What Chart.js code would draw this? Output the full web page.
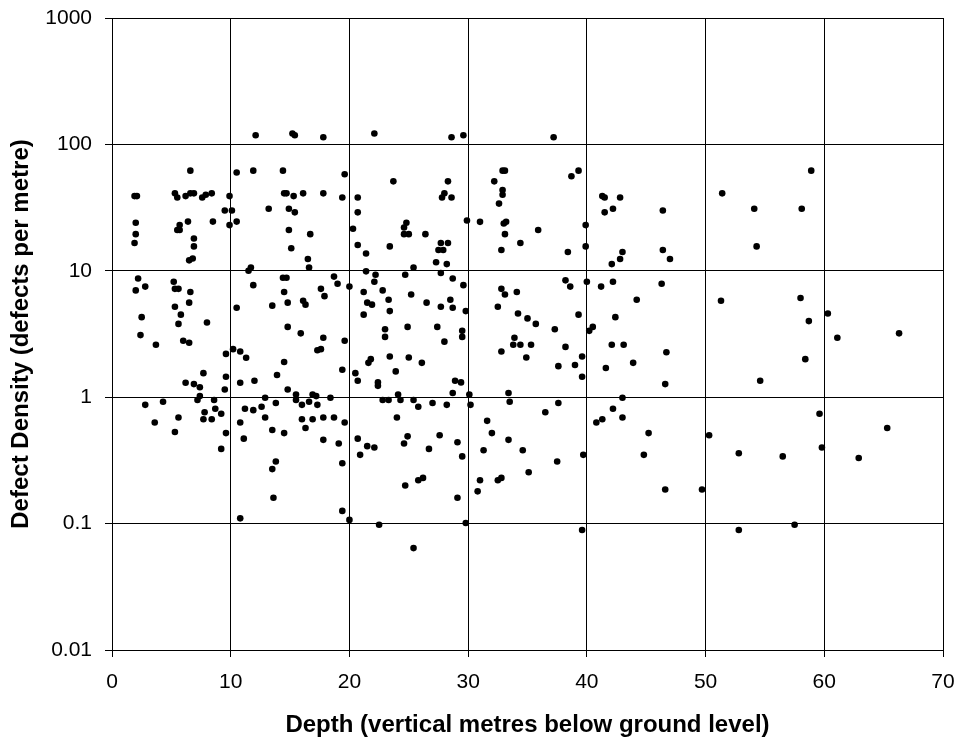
<!DOCTYPE html>
<html lang="en">
<head>
  <meta charset="UTF-8" />
  <title>Defect density vs depth</title>
  <style>
    html, body { margin: 0; padding: 0; background: #fff; }
    #wrap { width: 959px; height: 740px; }
  </style>
</head>
<body>
  <div id="wrap"><canvas id="chart"></canvas></div>

  <script src="https://cdn.jsdelivr.net/npm/chart.js@4"></script>
  <script>
    // depth of each logged interval (vertical metres below ground level)
    const depthMetres = [
      12.1, 15.2, 15.4, 6.6, 10.5, 11.9, 14.4, 1.9, 2.1, 5.3, 5.5, 6.2, 6.6, 6.9, 7.6, 7.9, 8.4, 9.9, 14.5, 14.7,
      15.3, 16.1, 9.5, 10.1, 13.2, 14.9, 15.4, 2.0, 2.0, 1.9, 6.4, 5.7, 5.5, 5.7, 8.5, 9.9, 10.5, 14.9, 16.7, 6.9,
      6.9, 15.1, 6.5, 6.8, 16.5, 16.6, 11.5, 11.7, 2.2, 2.8, 2.0, 5.2, 5.3, 5.6, 6.6, 11.9, 14.4, 14.7, 14.5, 6.5,
      5.3, 5.8, 5.6, 8.0, 10.5, 13.5, 14.8, 16.1, 16.3, 2.5, 2.4, 14.8, 15.9, 17.8, 22.1, 28.6, 29.6, 19.6, 23.7, 28.3,
      32.2, 32.9, 33.1, 17.8, 19.4, 20.7, 27.8, 28.0, 28.6, 32.9, 32.9, 32.6, 20.7, 20.3, 24.6, 24.8, 24.6, 25.0, 26.4, 29.9,
      31.0, 33.0, 33.2, 33.1, 20.7, 21.4, 23.4, 27.7, 28.3, 27.5, 27.9, 32.8, 34.4, 27.3, 28.2, 27.7, 25.4, 24.7, 21.4, 22.2,
      22.1, 18.7, 19.0, 20.0, 17.6, 17.9, 21.2, 22.8, 25.2, 28.7, 29.6, 32.8, 33.1, 34.1, 21.5, 21.9, 23.3, 26.5, 28.5, 27.7,
      28.7, 32.5, 34.2, 21.2, 23.4, 29.8, 23.0, 24.9, 27.4, 29.5, 37.2, 38.7, 39.3, 41.3, 41.5, 42.8, 41.5, 42.2, 46.4, 51.4,
      35.9, 39.9, 39.9, 38.4, 43.0, 42.8, 42.1, 46.4, 47.0, 38.2, 38.6, 40.0, 41.2, 42.2, 46.3, 44.2, 51.3, 35.0, 35.7, 37.3,
      39.3, 42.4, 40.2, 40.5, 58.9, 54.1, 58.1, 54.3, 58.0, 58.7, 60.3, 66.3, 6.0, 6.5, 3.7, 9.6, 10.2, 10.8, 11.3, 14.5,
      17.3, 7.7, 6.2, 6.9, 7.4, 9.6, 9.5, 10.8, 12.0, 13.9, 14.8, 15.5, 15.5, 16.9, 17.2, 7.4, 7.2, 2.8, 4.3, 8.6,
      7.8, 8.7, 9.2, 7.7, 8.4, 12.9, 12.6, 13.8, 11.2, 11.9, 12.9, 16.0, 16.6, 17.3, 16.0, 16.9, 16.3, 3.6, 5.6, 5.3,
      10.8, 13.5, 14.5, 9.6, 11.1, 9.2, 13.8, 13.5, 13.6, 10.8, 17.8, 17.6, 19.6, 23.0, 29.5, 28.0, 33.9, 33.8, 34.4, 32.8,
      19.4, 20.5, 20.7, 21.6, 21.8, 23.4, 25.0, 26.1, 23.9, 22.4, 22.4, 28.9, 29.4, 28.7, 30.1, 33.4, 33.5, 18.4, 24.1, 22.8,
      23.3, 24.3, 25.4, 25.8, 27.0, 28.2, 30.2, 17.8, 18.7, 19.6, 24.0, 17.8, 19.1, 20.7, 21.5, 22.1, 20.9, 24.9, 24.6, 27.6,
      26.7, 29.1, 29.5, 31.6, 32.0, 33.4, 31.3, 34.6, 19.4, 24.7, 25.8, 26.2, 29.1, 31.0, 30.8, 32.5, 32.8, 19.4, 20.0, 22.5,
      29.8, 25.4, 35.3, 34.9, 38.2, 37.6, 39.0, 39.6, 39.6, 42.1, 43.1, 41.6, 43.9, 46.7, 46.6, 43.0, 37.6, 36.5, 42.2, 40.8,
      41.3, 43.0, 45.2, 50.3, 39.7, 37.5, 35.1, 44.8, 46.6, 49.7, 39.6, 61.1, 58.4, 54.6, 59.6, 65.3, 52.8, 56.5, 59.8, 62.9,
      52.8, 57.5
    ];

    // defects per metre for the same intervals
    const defectDensity = [
      118, 122, 118, 62, 60, 62, 62, 39, 39, 41, 38, 39, 41, 41, 38, 40, 41, 39, 41, 41,
      39, 41, 30, 30, 31, 31, 29, 24, 19.5, 16.6, 24.5, 23, 21, 21, 24.5, 23, 24.5, 21, 19.5, 18,
      15.6, 15.1, 12.1, 12.5, 12.4, 10.6, 10, 10.6, 8.7, 7.5, 7.0, 8.2, 7.2, 7.2, 6.8, 7.7, 8.8, 8.8, 6.8, 5.6,
      5.2, 4.5, 3.8, 3.9, 5.1, 5.3, 5.6, 5.8, 5.4, 4.3, 3.1, 3.6, 3.2, 114, 122, 114, 118, 58, 51, 51,
      51, 62, 62, 41, 38, 38, 38, 41, 38, 43.5, 40, 34, 29, 21.5, 22, 24, 19.5, 19.5, 19.5, 25,
      24.4, 23.7, 24.4, 19.5, 16, 13.7, 15.6, 16.6, 16.6, 14.6, 14.6, 14.6, 16.6, 11.7, 11.3, 9.6, 10.6, 9.3, 9.9, 9.3,
      8.2, 9.0, 7.9, 7.5, 7.2, 6.3, 6.8, 7.0, 6.5, 8.7, 7.7, 7.2, 6.5, 6.8, 5.6, 5.4, 5.9, 5.6, 5.9, 5.2,
      5.1, 5.2, 4.6, 4.5, 4.8, 4.8, 3.45, 3.6, 3.6, 3.35, 114, 56, 62, 39, 38, 38, 29, 31, 30, 41,
      21, 23, 15.6, 14.1, 14.1, 12.4, 11.3, 14.6, 12.4, 8.4, 7.5, 8.2, 7.5, 8.2, 7.9, 5.9, 5.8, 4.2, 3.8, 3.45,
      4.5, 4.3, 3.35, 3.6, 62, 31, 31, 15.6, 6.1, 4.0, 4.6, 3.2, 2.8, 2.7, 2.6, 2.2, 2.4, 2.3, 2.05, 1.9,
      2.35, 1.55, 1.3, 1.27, 1.2, 1.45, 1.15, 1.3, 1.35, 1.5, 1.15, 1.05, 0.95, 1.05, 1.02, 1.02, 0.95, 0.87, 0.92, 0.95,
      0.76, 0.81, 0.74, 0.67, 0.67, 0.99, 0.84, 0.9, 0.81, 0.79, 0.69, 0.87, 0.92, 0.87, 0.67, 0.67, 0.57, 0.63, 0.69, 0.53,
      0.63, 0.55, 0.52, 0.52, 0.47, 0.39, 0.31, 0.27, 0.16, 0.11, 2.95, 2.4, 2.8, 3.0, 3.0, 2.75, 2.95, 2.6, 2.6, 2.3,
      1.65, 1.55, 1.35, 1.87, 2.0, 2.1, 2.06, 1.87, 1.6, 1.31, 1.23, 1.35, 1.31, 1.08, 1.05, 1.08, 0.92, 0.99, 1.05, 0.95,
      0.95, 0.95, 0.95, 0.84, 0.9, 0.87, 0.87, 0.69, 0.69, 0.63, 0.69, 0.46, 0.43, 0.47, 0.41, 0.4, 0.35, 0.49, 0.43, 0.5,
      0.39, 0.44, 0.34, 0.65, 0.52, 0.46, 0.38, 0.38, 0.3, 0.2, 0.22, 0.23, 0.16, 0.22, 0.18, 0.22, 0.23, 0.126, 0.107, 0.098,
      0.101, 0.064, 2.6, 2.06, 2.5, 1.76, 1.8, 2.1, 1.45, 2.6, 2.6, 1.7, 1.87, 2.27, 1.27, 0.99, 0.9, 0.76, 0.81, 0.63,
      0.67, 0.69, 0.52, 0.5, 0.35, 0.31, 0.255, 0.35, 0.186, 0.186, 0.089, 2.95, 2.0, 1.35, 0.74, 0.57, 0.36, 0.34, 0.4, 0.33,
      0.089, 0.098
    ];

    const depthTicks = [0, 10, 20, 30, 40, 50, 60, 70];
    const densityTicks = [0.01, 0.1, 1, 10, 100, 1000];

    const points = depthMetres.map((d, i) => ({ x: d, y: defectDensity[i] }));

    Chart.defaults.font.family = "'Liberation Sans', Arial, sans-serif";
    Chart.defaults.color = '#000';

    const gridLines = { color: '#000', lineWidth: 1, tickLength: 7, tickColor: '#000' };
    const titleFont = { size: 24, weight: 'bold' };

    new Chart(document.getElementById('chart'), {
      type: 'scatter',
      data: {
        datasets: [{
          data: points,
          backgroundColor: '#000',
          borderWidth: 0,
          pointRadius: 3.3,
          pointHoverRadius: 3.3
        }]
      },
      options: {
        responsive: true,
        maintainAspectRatio: false,
        animation: false,
        events: [],
        layout: { padding: { top: 18, right: 16, bottom: 0, left: 0 } },
        plugins: {
          legend: { display: false },
          tooltip: { enabled: false }
        },
        scales: {
          x: {
            type: 'linear',
            min: 0,
            max: 70,
            afterBuildTicks: axis => { axis.ticks = depthTicks.map(v => ({ value: v })); },
            // fixed box, and no extra room for the end labels
            afterFit: axis => {
              axis.height = 90;
              axis.paddingLeft = 0;
              axis.paddingRight = 0;
            },
            grid: gridLines,
            border: { color: '#000', width: 1 },
            ticks: { font: { size: 21 }, color: '#000', padding: 13, maxRotation: 0, autoSkip: false },
            title: {
              display: true,
              text: 'Depth (vertical metres below ground level)',
              font: titleFont,
              color: '#000',
              padding: { top: 0, bottom: 0 }
            }
          },
          y: {
            type: 'logarithmic',
            min: 0.01,
            max: 1000,
            afterBuildTicks: axis => { axis.ticks = densityTicks.map(v => ({ value: v })); },
            afterFit: axis => {
              axis.width = 112;
              axis.paddingTop = 0;
              axis.paddingBottom = 0;
            },
            grid: gridLines,
            border: { color: '#000', width: 1 },
            ticks: {
              font: { size: 21 },
              color: '#000',
              padding: 13,
              autoSkip: false,
              callback: v => String(v)
            },
            title: {
              display: true,
              text: 'Defect Density (defects per metre)',
              font: titleFont,
              color: '#000',
              padding: { top: 7, bottom: 0 }
            }
          }
        }
      }
    });
  </script>
</body>
</html>
